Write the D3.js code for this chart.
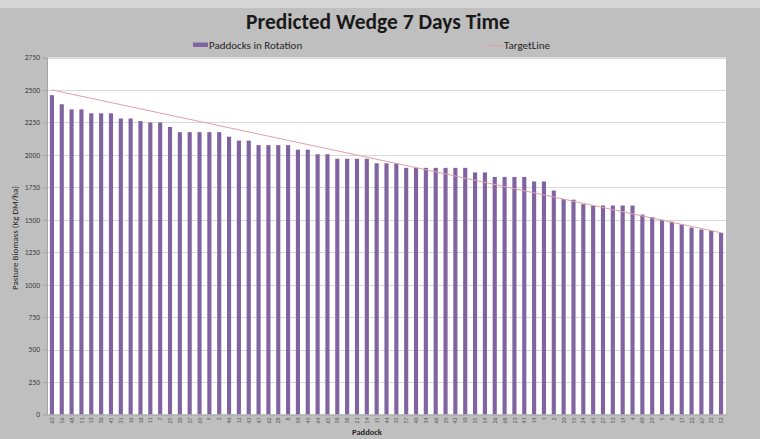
<!DOCTYPE html>
<html>
<head>
<meta charset="utf-8">
<script src="https://cdn.jsdelivr.net/npm/d3@7"></script>
<style>
  html, body { margin: 0; padding: 0; background: #bfbfbf; }
  svg { display: block; }
</style>
</head>
<body>
<div id="chart"></div>
<script>
// paddock ids (x labels are tiny in the source, best guess)
const paddocks = ['63', '56', '48', '51', '13', '36', '45', '31', '16', '18', '11', '7',
  '25', '30', '37', '69', '9', '3', '46', '12', '43', '47', '62', '28', '8',
  '50', '49', '64', '65', '58', '38', '21', '54', '15', '44', '32', '57', '40',
  '34', '66', '39', '42', '10', '35', '59', '26', '68', '23', '41', '14', '1',
  '2', '20', '55', '24', '61', '27', '53', '19', '4', '60', '29', '5', '6',
  '17', '22', '67', '33', '52'];

// Paddocks in Rotation (kg DM/ha)
const biomass = [2460, 2390, 2350, 2350, 2320, 2320, 2320, 2280, 2280, 2260,
  2250, 2250, 2215, 2175, 2175, 2175, 2175, 2175, 2140, 2110,
  2110, 2075, 2075, 2075, 2075, 2040, 2040, 2005, 2005, 1970,
  1970, 1970, 1970, 1935, 1935, 1935, 1900, 1900, 1900, 1900,
  1900, 1900, 1900, 1865, 1865, 1830, 1830, 1830, 1830, 1795,
  1795, 1725, 1660, 1655, 1620, 1610, 1610, 1610, 1610, 1610,
  1540, 1520, 1500, 1485, 1465, 1440, 1425, 1415, 1400];

// TargetLine end points (first and last paddock)
const targetStart = 2500;
const targetEnd = 1400;

const yTicks = [0, 250, 500, 750, 1000, 1250, 1500, 1750, 2000, 2250, 2500, 2750];

const width = 760, height = 439;
const plot = {left: 47, right: 726, top: 57.5, bottom: 414.5};
const font = "Carlito, Calibri, 'Liberation Sans Narrow', 'Open Sans', sans-serif";
const barColor = '#8064a2';
const lineColor = '#e0a0a6';

const svg = d3.select('#chart').append('svg')
  .attr('width', width)
  .attr('height', height)
  .style('font-family', font);

// background
svg.append('rect').attr('width', width).attr('height', height).attr('fill', '#bfbfbf');
svg.append('rect').attr('width', width).attr('height', 8).attr('fill', '#d6d6d6');

const x = d3.scaleBand().domain(paddocks).range([plot.left, plot.right]).padding(0);
const y = d3.scaleLinear().domain([0, 2750]).range([plot.bottom, plot.top]);
const barW = x.bandwidth() * 0.42;

// plot area
svg.append('rect')
  .attr('x', plot.left).attr('y', plot.top)
  .attr('width', plot.right - plot.left).attr('height', plot.bottom - plot.top)
  .attr('fill', '#fff');

// grid lines
svg.append('g')
  .selectAll('line')
  .data(yTicks.filter(d => d > 0))
  .enter().append('line')
  .attr('x1', plot.left).attr('x2', plot.right)
  .attr('y1', d => Math.round(y(d)) + 0.5).attr('y2', d => Math.round(y(d)) + 0.5)
  .attr('stroke', '#d9d9d9');

// y axis
const yAxis = svg.append('g')
  .attr('transform', `translate(${plot.left},0)`)
  .call(d3.axisLeft(y).tickValues(yTicks).tickFormat(d3.format('d')).tickSize(4).tickPadding(3));
yAxis.select('.domain').attr('stroke', '#a6a6a6');
yAxis.selectAll('.tick line').attr('stroke', '#a6a6a6');
yAxis.selectAll('.tick text')
  .style('font-family', font)
  .style('font-size', '7.5px')
  .attr('fill', '#404040');

// bars
svg.append('g')
  .selectAll('rect')
  .data(biomass)
  .enter().append('rect')
  .attr('x', (d, i) => x(paddocks[i]) + (x.bandwidth() - barW) / 2)
  .attr('y', d => y(d))
  .attr('width', barW)
  .attr('height', d => y(0) - y(d))
  .attr('fill', barColor);

// target line
const first = paddocks[0], last = paddocks[paddocks.length - 1];
svg.append('line')
  .attr('x1', x(first) + x.bandwidth() / 2)
  .attr('y1', y(targetStart))
  .attr('x2', x(last) + x.bandwidth() / 2)
  .attr('y2', y(targetEnd))
  .attr('stroke', lineColor)
  .attr('stroke-width', 1);

// x axis
const xAxis = svg.append('g')
  .attr('transform', `translate(0,${plot.bottom})`)
  .call(d3.axisBottom(x).tickSize(0).tickPadding(3));
xAxis.select('.domain').attr('stroke', '#a6a6a6');
xAxis.selectAll('.tick text')
  .style('font-family', font)
  .style('font-size', '6px')
  .attr('fill', '#595959')
  .attr('transform', 'rotate(-90)')
  .attr('text-anchor', 'end')
  .attr('dy', '0.35em')
  .attr('x', -3)
  .attr('y', 0);

// titles
svg.append('text')
  .attr('x', 378).attr('y', 29)
  .attr('text-anchor', 'middle')
  .style('font-size', '21.5px')
  .style('font-weight', 'bold')
  .attr('fill', '#1a1a1a')
  .text('Predicted Wedge 7 Days Time');

svg.append('text')
  .attr('x', 367).attr('y', 435)
  .attr('text-anchor', 'middle')
  .style('font-size', '8.5px')
  .style('font-weight', 'bold')
  .attr('fill', '#262626')
  .text('Paddock');

svg.append('text')
  .attr('transform', `translate(18,${(plot.top + plot.bottom) / 2 + 2}) rotate(-90)`)
  .attr('text-anchor', 'middle')
  .style('font-size', '9px')
  .attr('fill', '#262626')
  .text('Pasture Biomass (Kg DM/ha)');

// legend
const legend = svg.append('g');
legend.append('rect')
  .attr('x', 193).attr('y', 42.5).attr('width', 15).attr('height', 4.5)
  .attr('fill', barColor);
legend.append('text')
  .attr('x', 209).attr('y', 48.5)
  .style('font-size', '11px')
  .attr('fill', '#262626')
  .text('Paddocks in Rotation');
legend.append('line')
  .attr('x1', 487).attr('x2', 503).attr('y1', 45.5).attr('y2', 45.5)
  .attr('stroke', lineColor);
legend.append('text')
  .attr('x', 504).attr('y', 48.5)
  .style('font-size', '11px')
  .attr('fill', '#262626')
  .text('TargetLine');
</script>
</body>
</html>
